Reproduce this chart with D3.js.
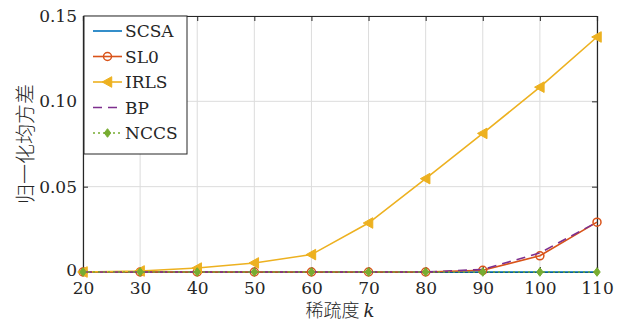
<!DOCTYPE html>
<html><head><meta charset="utf-8">
<script src="https://cdn.jsdelivr.net/npm/d3@7"></script>
<style>body{margin:0;background:#fff;}</style>
</head><body>
<svg id="c" width="620" height="322"></svg>
<script>
const sparsity = [20,30,40,50,60,70,80,90,100,110];
const scsa = [0,0,0,0,0,0,0,0,0,0];
const sl0  = [0,0,0,0,0,0,0,0.0010,0.0095,0.0292];
const irls = [0,0.0006,0.0023,0.0053,0.0102,0.0287,0.0547,0.0812,0.1083,0.1377];
const bp   = [0,0,0,0,0,0,0,0.0015,0.0112,0.0292];
const nccs = [0,0,0,0,0,0,0,0,0,0];
const yTicks = [0,0.05,0.10,0.15];
const yTickLabels = ["0","0.05","0.10","0.15"];
const seriesNames = ["SCSA","SL0","IRLS","BP","NCCS"];

const svg = d3.select("#c");
const L=83,R=597,T=16,B=272;
const x = d3.scaleLinear().domain([20,110]).range([L,R]);
const y = d3.scaleLinear().domain([0,0.15]).range([B,T]);
const serif = "DejaVu Serif";

// grid
const g = svg.append("g");
g.selectAll("line.gx").data(sparsity).enter().append("line")
 .attr("x1",d=>x(d)).attr("x2",d=>x(d)).attr("y1",T).attr("y2",B)
 .attr("stroke","#dcdcdc").attr("stroke-width",1);
g.selectAll("line.gy").data(yTicks).enter().append("line")
 .attr("x1",L).attr("x2",R).attr("y1",d=>y(d)).attr("y2",d=>y(d))
 .attr("stroke","#dcdcdc").attr("stroke-width",1);

// axes
const xa = svg.append("g").attr("transform",`translate(0,${B})`)
 .call(d3.axisBottom(x).tickValues(sparsity).tickSize(-5).tickPadding(10).tickFormat(d3.format("d")));
const xt = svg.append("g").attr("transform",`translate(0,${T})`)
 .call(d3.axisTop(x).tickValues(sparsity).tickSize(-5).tickFormat(""));
const ya = svg.append("g").attr("transform",`translate(${L},0)`)
 .call(d3.axisLeft(y).tickValues(yTicks).tickSize(-5).tickPadding(6).tickFormat((d,i)=>yTickLabels[i]));
const yr = svg.append("g").attr("transform",`translate(${R},0)`)
 .call(d3.axisRight(y).tickValues(yTicks).tickSize(-5).tickFormat(""));
[xa,xt,ya,yr].forEach(a=>{
  a.attr("font-family",serif).attr("font-size",17);
  a.selectAll("path").attr("stroke","#262626").attr("stroke-width",1.2);
  a.selectAll("line").attr("stroke","#262626");
  a.selectAll("text").attr("fill","#262626");
});
ya.selectAll(".tick text").filter(d=>d===0).attr("dy","0.2em");

const line = d3.line().x((d,i)=>x(sparsity[i])).y(d=>y(d));
const series = [
 {name:"SCSA",data:scsa,color:"#0072BD",dash:null,marker:null},
 {name:"SL0",data:sl0,color:"#D95319",dash:null,marker:"circle"},
 {name:"IRLS",data:irls,color:"#EDB120",dash:null,marker:"tri"},
 {name:"BP",data:bp,color:"#7E2F8E",dash:"9,6",marker:null},
 {name:"NCCS",data:nccs,color:"#77AC30",dash:"2,3",marker:"diamond"}
];
function drawMarker(sel,type,color,cx,cy){
  if(type==="circle"){
    sel.append("circle").attr("cx",cx).attr("cy",cy).attr("r",4)
     .attr("fill","none").attr("stroke",color).attr("stroke-width",1.5);
  } else if(type==="tri"){
    const s=5.3;
    sel.append("path").attr("d",`M${cx-s},${cy}L${cx+s*0.8},${cy-s}L${cx+s*0.8},${cy+s}Z`)
     .attr("fill",color).attr("stroke",color);
  } else if(type==="diamond"){
    const s=4.3;
    sel.append("path").attr("d",`M${cx},${cy-s}L${cx+s*0.75},${cy}L${cx},${cy+s}L${cx-s*0.75},${cy}Z`)
     .attr("fill",color).attr("stroke",color);
  }
}
const plot = svg.append("g");
series.forEach(s=>{
  const p = plot.append("path").datum(s.data).attr("d",line)
   .attr("fill","none").attr("stroke",s.color).attr("stroke-width",1.6);
  if(s.dash) p.attr("stroke-dasharray",s.dash);
  if(s.marker){
    s.data.forEach((v,i)=>drawMarker(plot,s.marker,s.color,x(sparsity[i]),y(v)));
  }
});

// legend
const lg = svg.append("g");
lg.append("rect").attr("x",84).attr("y",16).attr("width",103).attr("height",138)
 .attr("fill","#fff").attr("stroke","#262626").attr("stroke-width",1);
series.forEach((s,i)=>{
  const cy = 31+i*25.5;
  const l = lg.append("line").attr("x1",93).attr("x2",122).attr("y1",cy).attr("y2",cy)
   .attr("stroke",s.color).attr("stroke-width",1.6);
  if(s.dash) l.attr("stroke-dasharray",s.dash);
  if(s.marker) drawMarker(lg,s.marker,s.color,107.5,cy);
  lg.append("text").attr("x",125).attr("y",cy+6).text(s.name)
   .attr("font-family",serif).attr("font-size",17).attr("fill","#262626");
});

// axis labels
svg.append("text").attr("transform",`translate(33,144) rotate(-90)`)
 .attr("text-anchor","middle").attr("font-family","Noto Sans CJK SC")
 .attr("font-size",20).attr("font-weight",300).attr("fill","#262626").text("归一化均方差");
const xl = svg.append("text").attr("x",340).attr("y",317).attr("text-anchor","middle")
 .attr("fill","#262626").attr("font-size",18);
xl.append("tspan").attr("font-family","Noto Sans CJK SC").attr("font-weight",300).text("稀疏度 ");
xl.append("tspan").attr("font-family",serif).attr("font-style","italic").text("k");
</script>
</body></html>
